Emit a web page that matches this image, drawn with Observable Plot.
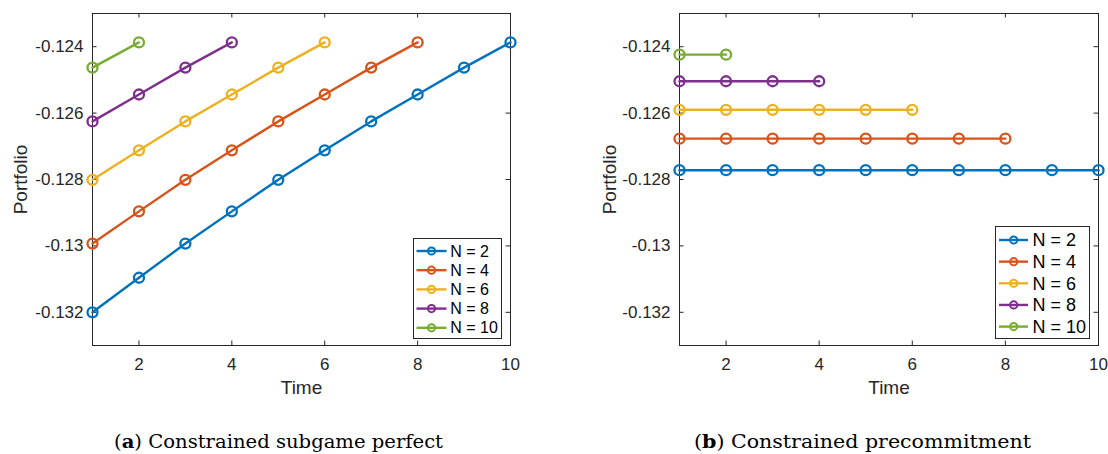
<!DOCTYPE html>
<html><head><meta charset="utf-8">
<script src="https://cdn.jsdelivr.net/npm/d3@7"></script>
<script src="https://cdn.jsdelivr.net/npm/@observablehq/plot@0.6"></script>
<style>
body{margin:0;background:#fff;}
#root{position:relative;width:1108px;height:454px;overflow:hidden;background:#fff;}
#root > svg, #root > figure{position:absolute;margin:0;}
</style></head><body><div id="root"></div>
<script>
// ---- data ----
const time = [1, 2, 3, 4, 5, 6, 7, 8, 9, 10];
const seriesNames = ["N = 2", "N = 4", "N = 6", "N = 8", "N = 10"];
const seriesColors = ["#0072BD", "#D95319", "#EDB120", "#7E2F8E", "#77AC30"];
const xTicks = [2, 4, 6, 8, 10];
const yTicks = [-0.132, -0.13, -0.128, -0.126, -0.124];
const xLabel = "Time";
const yLabel = "Portfolio";

// (a) Constrained subgame perfect
const spN2 = [-0.13200, -0.13096, -0.12993, -0.12896, -0.12801, -0.12712, -0.12625, -0.12544, -0.12463, -0.12387];
const spN4 = [-0.12993, -0.12896, -0.12801, -0.12712, -0.12625, -0.12544, -0.12463, -0.12387];
const spN6 = [-0.12801, -0.12712, -0.12625, -0.12544, -0.12463, -0.12387];
const spN8 = [-0.12625, -0.12544, -0.12463, -0.12387];
const spN10 = [-0.12463, -0.12387];

// (b) Constrained precommitment
const pcN2 = [-0.12772, -0.12772, -0.12772, -0.12772, -0.12772, -0.12772, -0.12772, -0.12772, -0.12772, -0.12772];
const pcN4 = [-0.12677, -0.12677, -0.12677, -0.12677, -0.12677, -0.12677, -0.12677, -0.12677];
const pcN6 = [-0.12590, -0.12590, -0.12590, -0.12590, -0.12590, -0.12590];
const pcN8 = [-0.12504, -0.12504, -0.12504, -0.12504];
const pcN10 = [-0.12424, -0.12424];

const captionA = ["a", ") Constrained subgame perfect"];
const captionB = ["b", ") Constrained precommitment"];

// ---- build ----
function rows(lists) {
  return lists.flatMap((vals, i) => vals.map((v, j) => ({time: time[j], value: v, series: seriesNames[i]})));
}

const W = 554, H = 400;
const INK = "#262626";
const SANS = '"Liberation Sans", Arial, sans-serif';

function panel(data, m) {
  const fw = W - m.ml - m.mr, fh = H - m.mt - m.mb;
  const tl = 4.5;
  return Plot.plot({
    width: W, height: H,
    marginLeft: m.ml, marginRight: m.mr, marginTop: m.mt, marginBottom: m.mb,
    style: {fontFamily: SANS, fontSize: "17px", color: INK, background: "transparent", overflow: "visible"},
    x: {domain: [1, 10]},
    y: {domain: [-0.133, -0.123]},
    color: {domain: seriesNames, range: seriesColors},
    marks: [
      Plot.axisX({ticks: [], tickSize: 0, fontSize: 19, label: xLabel, labelAnchor: "center", labelOffset: 48, labelArrow: "none"}),
      Plot.axisY({ticks: [], tickSize: 0, fontSize: 19, label: yLabel, labelAnchor: "center", labelOffset: m.ly, labelArrow: "none"}),
      Plot.text(xTicks, {x: d => d, text: d => String(d), frameAnchor: "bottom", lineAnchor: "top", dy: 12, fontSize: 17, fill: INK}),
      Plot.text(yTicks, {y: d => d, text: d => String(d), frameAnchor: "left", textAnchor: "end", dx: -9, fontSize: 17, fill: INK}),
      Plot.tickX(xTicks, {x: d => d, stroke: INK, insetTop: fh - tl}),
      Plot.tickX(xTicks, {x: d => d, stroke: INK, insetBottom: fh - tl}),
      Plot.tickY(yTicks, {y: d => d, stroke: INK, insetRight: fw - tl}),
      Plot.tickY(yTicks, {y: d => d, stroke: INK, insetLeft: fw - tl}),
      Plot.frame({stroke: INK, strokeWidth: 1}),
      Plot.line(data, {x: "time", y: "value", z: "series", stroke: "series", strokeWidth: 2.4}),
      Plot.dot(data, {x: "time", y: "value", stroke: "series", fill: "none", r: 5, strokeWidth: 2.3})
    ]
  });
}

const root = document.getElementById("root");

const plotA = panel(rows([spN2, spN4, spN6, spN8, spN10]), {ml: 92, mr: 44, mt: 13, mb: 55, ly: 79});
plotA.style.left = "0px"; plotA.style.top = "0px";
root.appendChild(plotA);

const plotB = panel(rows([pcN2, pcN4, pcN6, pcN8, pcN10]), {ml: 125, mr: 10, mt: 13, mb: 55, ly: 77});
plotB.style.left = W + "px"; plotB.style.top = "0px";
root.appendChild(plotB);

function legend(plot, c) {
  const color = plot.scale("color");
  const svg = d3.create("svg")
    .attr("width", c.w).attr("height", c.h)
    .style("position", "absolute").style("left", c.left + "px").style("top", c.top + "px")
    .style("font-family", SANS);
  svg.append("rect").attr("x", 0.5).attr("y", 0.5).attr("width", c.w - 1).attr("height", c.h - 1)
    .attr("fill", "#fff").attr("stroke", INK).attr("stroke-width", 1);
  seriesNames.forEach((name, i) => {
    const y = c.row0 + i * c.step;
    const col = color.apply(name);
    svg.append("line").attr("x1", c.lx0).attr("x2", c.lx1).attr("y1", y).attr("y2", y)
      .attr("stroke", col).attr("stroke-width", 2.4);
    svg.append("circle").attr("cx", c.cx).attr("cy", y).attr("r", 3.6)
      .attr("fill", "none").attr("stroke", col).attr("stroke-width", 2);
    svg.append("text").attr("x", c.tx).attr("y", y).attr("dy", "0.35em")
      .attr("font-size", c.fs).attr("fill", "#000").text(name);
  });
  root.appendChild(svg.node());
}

legend(plotA, {left: 413, top: 237.5, w: 89, h: 101, row0: 13, step: 19.2, lx0: 3.5, lx1: 33.5, cx: 18.5, tx: 37.2, fs: 16});
legend(plotB, {left: 995, top: 225.7, w: 95, h: 113, row0: 14, step: 21.65, lx0: 4, lx1: 33, cx: 18.7, tx: 37.4, fs: 18});

// captions
const cap = d3.create("svg").attr("width", 1108).attr("height", 54)
  .style("position", "absolute").style("left", "0px").style("top", "400px");
function caption(parts, x, width) {
  const t = cap.append("text").attr("x", x).attr("y", 47.7)
    .attr("font-family", '"DejaVu Serif", "Liberation Serif", serif').attr("font-size", 18.5)
    .attr("fill", "#000").attr("textLength", width).attr("lengthAdjust", "spacingAndGlyphs");
  t.append("tspan").text("(");
  t.append("tspan").attr("font-weight", "bold").text(parts[0]);
  t.append("tspan").text(parts[1]);
}
caption(captionA, 114, 329);
caption(captionB, 694, 337);
root.appendChild(cap.node());
</script>
</body></html>
